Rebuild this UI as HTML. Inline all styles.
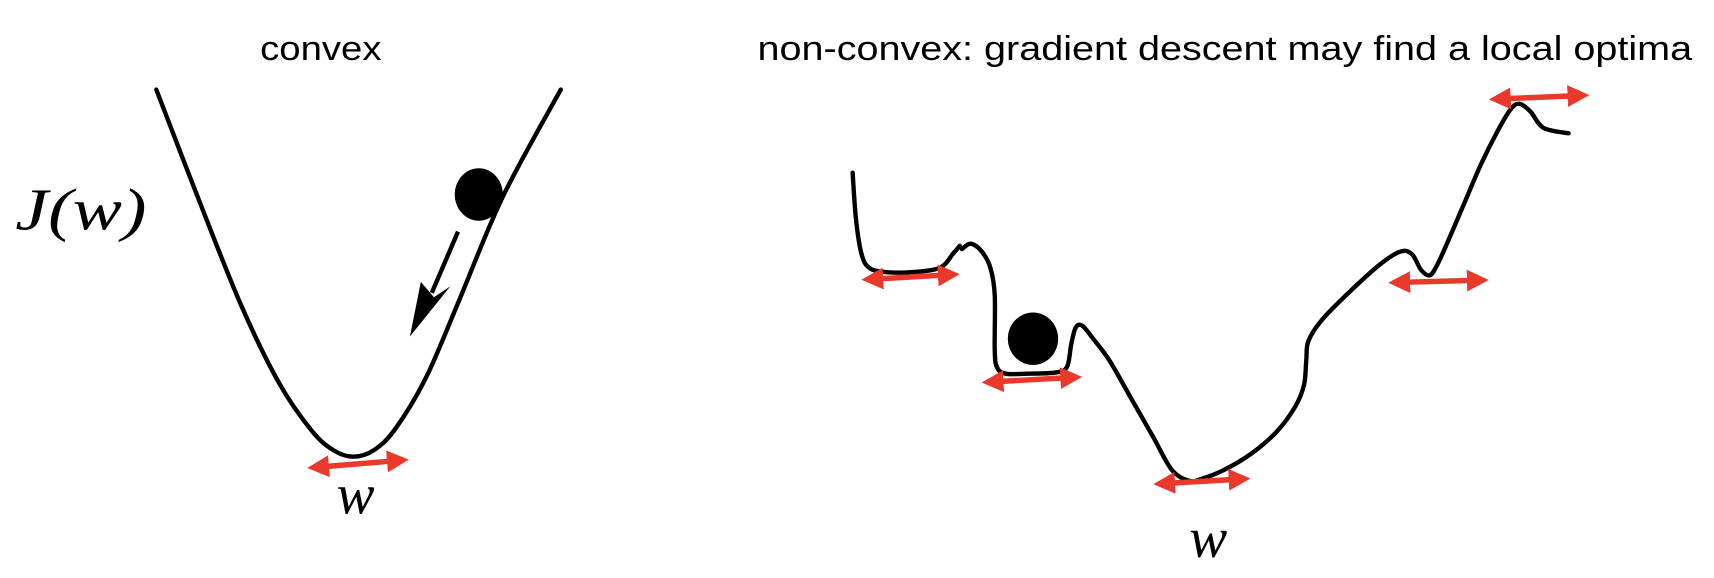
<!DOCTYPE html>
<html>
<head>
<meta charset="utf-8">
<style>
  html, body { margin: 0; padding: 0; background: #fff; }
  svg { display: block; }
</style>
</head>
<body>
<svg id="fig" width="1714" height="578" viewBox="0 0 1568 529" preserveAspectRatio="none" xmlns="http://www.w3.org/2000/svg">
  <defs>
    <marker id="redhead" viewBox="0 0 10 10" refX="5" refY="5" markerWidth="4" markerHeight="4.4" orient="auto-start-reverse">
      <path d="M0,0 L10,5 L0,10 Z" fill="#e8392b"/>
    </marker>
  </defs>
  <text x="238" y="55" textLength="111" lengthAdjust="spacingAndGlyphs" font-family="Liberation Sans, sans-serif" font-size="31" fill="#000">convex</text>
  <text x="693" y="55" textLength="855" lengthAdjust="spacingAndGlyphs" font-family="Liberation Sans, sans-serif" font-size="31" fill="#000">non-convex: gradient descent may find a local optima</text>
  <text x="14" y="210" textLength="120" lengthAdjust="spacingAndGlyphs" font-family="Liberation Serif, serif" font-style="italic" font-size="54" fill="#000">J(w)</text>
  <text x="308" y="470" font-family="Liberation Serif, serif" font-style="italic" font-size="52" fill="#000">w</text>
  <text x="1088" y="510" font-family="Liberation Serif, serif" font-style="italic" font-size="52" fill="#000">w</text>
  <g id="curves"></g>
  <ellipse cx="438" cy="178" rx="22" ry="24" fill="#000"/>
  <ellipse cx="945" cy="310" rx="23" ry="24" fill="#000"/>
  <g>
    <line x1="419" y1="212" x2="395" y2="268" stroke="#000" stroke-width="4"/>
    <path d="M375,308 L385,258 L397,272 L412,262 Z" fill="#000"/>
  </g>
  <g id="reds"></g>
</svg>
<script>
// convex curve points (diagram coordinates)
const convexX = [143,180,220,255,285,305,323,342,362,390,420,460,513];
const convexY = [82,178,278,350,394,412,418,412,392,345,275,180,82];
// non-convex curve points
const ncX = [780,783,788,795,810,835,860,872,878];
const ncY = [158,200,232,245,249,249,245,232,225];
const nc2X = [880,888,898,906,910,910,912,920,940,965,976,980,984,990,1000,1015,1035,1055,1072,1088,1100,1120,1145,1168,1185,1193,1195,1197,1210,1240,1265,1282,1292,1300,1308,1315,1325,1340,1355,1370,1382,1390,1400,1412,1435];
const nc2Y = [228,223,230,245,270,320,336,342,342,341,336,315,300,298,310,330,365,400,430,440,438,430,415,395,372,352,330,312,292,262,240,230,233,247,252,242,220,185,150,120,100,95,102,117,122];
// local-minimum red arrow markers
const redStartX = [283,790,900,1057,1272,1364];
const redStartY = [428,256,350,443,259,91];
const redEndX = [372,876,988,1142,1360,1452];
const redEndY = [421,251,345,438,256,87];

const NS = 'http://www.w3.org/2000/svg';
function pathFrom(xs, ys){
  // Catmull-Rom spline through the points
  let d = 'M' + xs[0] + ',' + ys[0];
  const n = xs.length;
  for (let i = 0; i < n - 1; i++) {
    const x0 = xs[Math.max(i-1,0)], y0 = ys[Math.max(i-1,0)];
    const x1 = xs[i], y1 = ys[i], x2 = xs[i+1], y2 = ys[i+1];
    const x3 = xs[Math.min(i+2,n-1)], y3 = ys[Math.min(i+2,n-1)];
    const c1x = x1 + (x2 - x0) / 6, c1y = y1 + (y2 - y0) / 6;
    const c2x = x2 - (x3 - x1) / 6, c2y = y2 - (y3 - y1) / 6;
    d += ' C' + c1x + ',' + c1y + ' ' + c2x + ',' + c2y + ' ' + x2 + ',' + y2;
  }
  return d;
}
const cg = document.getElementById('curves');
function addCurve(xs, ys, name){
  const p = document.createElementNS(NS, 'path');
  p.setAttribute('d', pathFrom(xs, ys));
  p.setAttribute('fill', 'none');
  p.setAttribute('stroke', '#000');
  p.setAttribute('stroke-width', '4');
  p.setAttribute('stroke-linecap', 'round');
  p.setAttribute('stroke-linejoin', 'round');
  
  
  cg.appendChild(p);
}
addCurve(convexX, convexY, 'convex-curve');
addCurve(ncX, ncY, 'nonconvex-curve-left');
addCurve(nc2X, nc2Y, 'nonconvex-curve-main');

const rg = document.getElementById('reds');
for (let i = 0; i < redStartX.length; i++) {
  const l = document.createElementNS(NS, 'line');
  l.setAttribute('x1', redStartX[i] + 8);
  l.setAttribute('y1', redStartY[i] - 0.5);
  l.setAttribute('x2', redEndX[i] - 8);
  l.setAttribute('y2', redEndY[i] + 0.5);
  l.setAttribute('stroke', '#e8392b');
  l.setAttribute('stroke-width', '5');
  l.setAttribute('marker-start', 'url(#redhead)');
  l.setAttribute('marker-end', 'url(#redhead)');
  
  
  rg.appendChild(l);
}
</script>
</body>
</html>
